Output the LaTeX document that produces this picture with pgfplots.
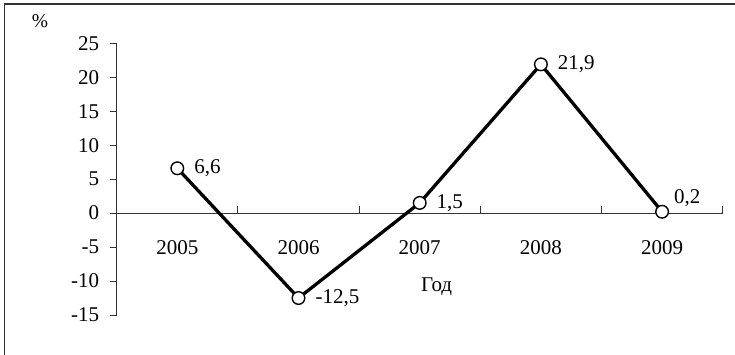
\documentclass[border=0pt]{standalone}
\usepackage{fontspec}
\setmainfont{Liberation Serif}
\usepackage{pgfplots}
\usepackage{pgfplotstable}
\pgfplotsset{compat=1.18}

% year slot, growth %, label text, label shifts
\pgfplotstableread{
x   y     lab     dx  dy
0.5 6.6   {6,6}   0   0
1.5 -12.5 {-12,5} 0   0
2.5 1.5   {1,5}   0   0
3.5 21.9  {21,9}  0   0
4.5 0.2   {0,2}   -5  14
}\growth

\begin{document}
\begin{tikzpicture}[x=1pt,y=1pt]
\useasboundingbox (0,0) rectangle (735,355);
% chart frame (right and bottom edges lie outside the picture)
\draw[line width=1.3pt, black!80] (4.7,-3) -- (4.7,351) -- (738,351);
\node[font=\fontsize{19.5}{22}\selectfont] at (40,334) {\%};

\begin{axis}[
    at={(116.7pt,40pt)}, anchor=south west,
    scale only axis, width=606pt, height=271.7pt,
    xmin=0, xmax=5, ymin=-15, ymax=25,
    axis x line=middle, axis y line=left,
    axis line style={-, line width=0.9pt, black!80},
    hide obscured y ticks=false, hide obscured x ticks=false,
    ytick={-15,-10,...,25},
    yticklabels={-15,-10,-5,0,5,10,15,20,25},
    xtick={0.5,1.5,2.5,3.5,4.5},
    xticklabels={2005,2006,2007,2008,2009},
    x tick style={draw=none},
    y tick style={line width=0.9pt, black!80},
    tick align=outside, major tick length=7pt,
    yticklabel style={xshift=-7pt},
    xticklabel style={yshift=-17pt},
    tick label style={font=\fontsize{21}{24}\selectfont},
    clip=false,
]
\draw[line width=0.9pt, black!80] (axis cs:1,0) -- (axis cs:1,1.03);
\draw[line width=0.9pt, black!80] (axis cs:2,0) -- (axis cs:2,1.03);
\draw[line width=0.9pt, black!80] (axis cs:3,0) -- (axis cs:3,1.03);
\draw[line width=0.9pt, black!80] (axis cs:4,0) -- (axis cs:4,1.03);
\draw[line width=0.9pt, black!80] (axis cs:5,0) -- (axis cs:5,1.03);

\addplot[black, line width=3.3pt, mark=*, mark size=6.3pt,
    mark options={fill=white, draw=black, line width=1.4pt},
    nodes near coords, point meta=explicit symbolic,
    visualization depends on={\thisrow{dx} \as \dx},
    visualization depends on={\thisrow{dy} \as \dy},
    every node near coord/.append style={anchor=west, xshift=13pt+\dx pt,
        yshift=\dy pt, font=\fontsize{21}{24}\selectfont}]
    table[x=x, y=y, meta=lab] {\growth};

\node[font=\fontsize{21}{24}\selectfont] at (axis cs:2.64,-10.8) {Год};
\end{axis}
\end{tikzpicture}
\end{document}
